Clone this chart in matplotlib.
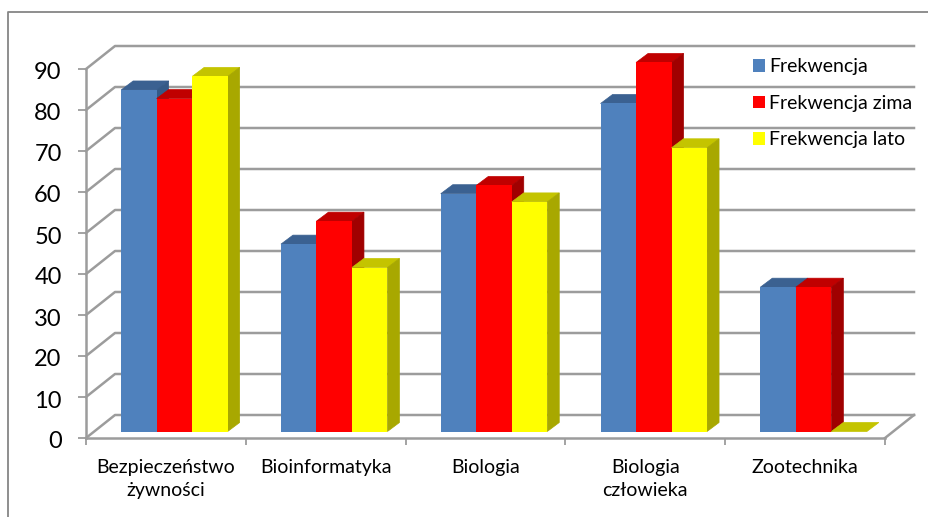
import matplotlib
matplotlib.use("Agg")
import matplotlib.pyplot as plt
from matplotlib.lines import Line2D
from matplotlib.transforms import ScaledTranslation
import numpy as np

categories = ["Bezpieczeństwo\nżywności", "Bioinformatyka", "Biologia", "Biologia\nczłowieka", "Zootechnika"]
frekwencja = [83.3, 45.7, 58.0, 80.0, 35.2]
frekwencja_zima = [81.2, 51.3, 60.0, 90.0, 35.2]
frekwencja_lato = [86.6, 40.0, 56.0, 69.2, 0.0]
y_ticks = list(range(0, 100, 10))

W, H = 929, 517
plt.rcParams['font.family'] = ['Lato', 'DejaVu Sans']
fig = plt.figure(figsize=(W / 100, H / 100), dpi=100, facecolor='white')

L, R, T, B = 86, 885, 69, 438
ax = fig.add_axes([L / W, 1 - B / H, (R - L) / W, (B - T) / H])
ax.set_xlim(0, 5)
ax.set_ylim(0, 90)
ax.patch.set_visible(False)

px = 5 / (R - L)
py = 90 / (B - T)
DX, DY = 29 * px, 23 * py          # depth of the floor
OX, OY = 8.5 * px, 6.5 * py        # bar front plane
BX, BY = 12 * px, 9 * py           # bar depth
BW = 35.5 * px

GRID = '#9c9c9c'
for v in y_ticks:
    ax.plot([0, DX, 5 + DX], [v, v + DY, v + DY], color=GRID, lw=1.8, clip_on=False, zorder=1,
            solid_joinstyle='round')
ax.plot([5, 5 + DX], [0, DY], color=GRID, lw=1.8, clip_on=False, zorder=1)

series = [
    ("Frekwencja", frekwencja, '#4F81BD', '#3B6191', '#355A87'),
    ("Frekwencja zima", frekwencja_zima, '#FF0000', '#C00000', '#A00000'),
    ("Frekwencja lato", frekwencja_lato, '#FFFF00', '#C4C400', '#A8A800'),
]
centers = np.arange(5) + 0.5
handles = []
for s, (name, vals, front, top, side) in enumerate(series):
    for c, v in zip(centers, vals):
        x0 = c + OX + (s - 1.5) * BW
        x1 = x0 + BW
        y0, y1 = OY, OY + v
        ax.fill([x0, x0 + BX, x1 + BX, x1], [y1, y1 + BY, y1 + BY, y1], color=top, lw=0.5, zorder=2 + s, clip_on=False)
        if v > 0:
            ax.fill([x1, x1 + BX, x1 + BX, x1], [y0, y0 + BY, y1 + BY, y1], color=side, lw=0.5, zorder=2 + s, clip_on=False)
    bars = ax.bar(centers + OX + (s - 1) * BW, vals, width=BW, bottom=OY, color=front, lw=0,
                  zorder=2.5 + s, label=name, clip_on=False)
    handles.append(bars)

for sp in ('top', 'right'):
    ax.spines[sp].set_visible(False)
for sp in ('left', 'bottom'):
    ax.spines[sp].set_color(GRID)
    ax.spines[sp].set_linewidth(1.8)
    ax.spines[sp].set_zorder(1.5)

ax.set_yticks(y_ticks)
ax.set_yticklabels([str(v) for v in y_ticks], fontsize=17, color='black')
ax.tick_params(axis='y', length=5.5, width=1.3, color=GRID, pad=12)
shift = ScaledTranslation(0, -2 / 100, fig.dpi_scale_trans)
for lab in ax.get_yticklabels():
    lab.set_transform(lab.get_transform() + shift)
ax.set_xticks(range(6))
ax.set_xticklabels([])
ax.tick_params(axis='x', which='major', length=5, width=1.3, color=GRID)
ax.set_xticks(centers, minor=True)
ax.set_xticklabels(categories, minor=True, fontsize=14, color='black', linespacing=1.42)
ax.tick_params(axis='x', which='minor', length=0, pad=15)

leg = ax.legend(handles=handles, frameon=False, fontsize=14, loc='upper left',
                bbox_to_anchor=(745 / W, 1 - 50.5 / H), bbox_transform=fig.transFigure,
                handlelength=0.62, handleheight=0.62, handletextpad=0.22,
                labelspacing=1.0, borderaxespad=0, borderpad=0.4)
leg.set_zorder(10)

fig.add_artist(Line2D([8 / W, 8 / W, 1], [0, 1 - 12 / H, 1 - 12 / H], transform=fig.transFigure,
                      color='#868686', lw=1.3))

fig.savefig('out.png', dpi=100)
